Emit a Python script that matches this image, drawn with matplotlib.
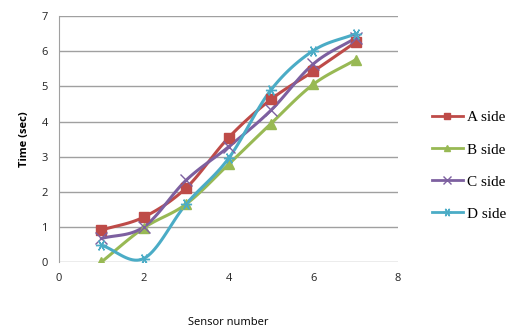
import matplotlib
matplotlib.use("Agg")
import matplotlib.pyplot as plt
import numpy as np
from matplotlib.lines import Line2D

sensors = [1, 2, 3, 4, 5, 6, 7]
a_side = [0.91, 1.28, 2.11, 3.54, 4.63, 5.43, 6.26]
b_side = [0.0, 0.97, 1.65, 2.78, 3.94, 5.06, 5.76]
c_side = [0.67, 1.0, 2.33, 3.28, 4.32, 5.64, 6.38]
d_side = [0.48, 0.1, 1.65, 2.95, 4.9, 6.02, 6.5]
labels = ["A side", "B side", "C side", "D side"]
colors = ["#be4b48", "#98b954", "#7d60a0", "#4bacc6"]
markers = ["s", "^", "x", (6, 2, 30)]


def smooth(x, y, n=20):
    # catmull-rom style curve through the points, like Excel's smoothed lines
    x = np.asarray(x, float)
    y = np.asarray(y, float)
    px = np.concatenate([[2 * x[0] - x[1]], x, [2 * x[-1] - x[-2]]])
    py = np.concatenate([[2 * y[0] - y[1]], y, [2 * y[-1] - y[-2]]])
    t = np.linspace(0, 1, n)
    xs, ys = [], []
    for i in range(1, len(px) - 2):
        for p, out in ((px, xs), (py, ys)):
            p0, p1, p2, p3 = p[i - 1], p[i], p[i + 1], p[i + 2]
            m1 = (p2 - p0) / 2
            m2 = (p3 - p1) / 2
            h00 = 2 * t**3 - 3 * t**2 + 1
            h10 = t**3 - 2 * t**2 + t
            h01 = -2 * t**3 + 3 * t**2
            h11 = t**3 - t**2
            out.extend(h00 * p1 + h10 * m1 + h01 * p2 + h11 * m2)
    return xs, ys


fig = plt.figure(figsize=(5.07, 3.29), dpi=100)
ax = fig.add_axes([0.1164, 0.2036, 0.6686, 0.747])

handles = []
for vals, lab, col, mk in zip([a_side, b_side, c_side, d_side], labels, colors, markers):
    xs, ys = smooth(sensors, vals)
    ax.plot(xs, ys, color=col, lw=2.2, zorder=3)
    thin = not isinstance(mk, str) or mk == "x"
    ax.plot(sensors, vals, ls="none", marker=mk, color=col, ms=8 if thin else 7,
            mew=1.0, zorder=4)
    handles.append(Line2D([0], [0], color=col, lw=2, marker=mk, ms=6 if thin else 5, mew=1.0))

ax.set_xlim(0, 8)
ax.set_ylim(0, 7)
ax.set_xticks(range(0, 9, 2))
ax.set_yticks(range(0, 8))
ax.yaxis.grid(True, color="#a0a0a0", lw=1)
ax.set_axisbelow(True)
for s in ["top", "right", "bottom"]:
    ax.spines[s].set_visible(False)
ax.spines["left"].set_color("#a0a0a0")
ax.tick_params(length=0, labelsize=8, colors="#222222", pad=8)
for t in ax.get_xticklabels() + ax.get_yticklabels():
    t.set_family("Open Sans")

ax.set_xlabel("Sensor number", fontsize=8, family="Open Sans", labelpad=24)
ax.set_ylabel("Time (sec)", fontsize=8, family="Open Sans", fontweight="bold", labelpad=8)

fig.legend(handles, labels, loc="upper left", bbox_to_anchor=(0.825, 0.705),
           frameon=False, prop={"family": "Liberation Serif", "size": 11},
           handlelength=2.0, handletextpad=0.3, labelspacing=1.2)

fig.savefig("out.png", dpi=100)
